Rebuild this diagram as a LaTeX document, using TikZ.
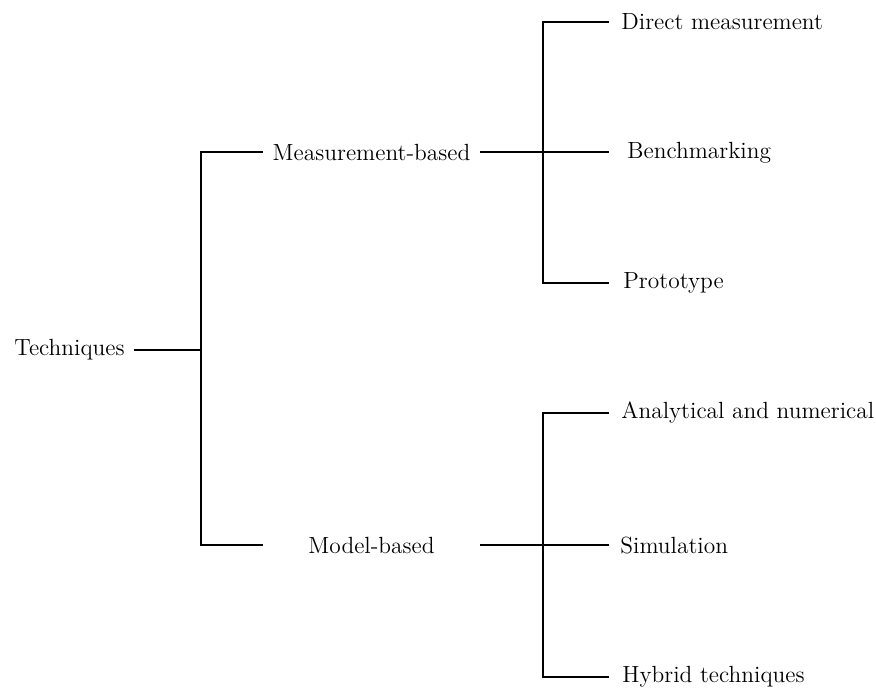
\documentclass[tikz,border=0pt]{standalone}
\usepackage{tikz}
\usetikzlibrary{positioning}

\begin{document}
\begin{tikzpicture}[x=0.5pt, y=-0.5pt, every node/.style={font=\fontsize{11.7}{14}\selectfont, inner sep=4.5pt},
  leaf/.style={anchor=west, inner xsep=#1}]
\useasboundingbox (0,0) rectangle (876,690);

% Root
\node[anchor=east] at (134,350) (tech) {Techniques};

% Middle level (fixed width, centred text)
\node[minimum width=108.5pt] at (371.5,152) (meas) {Measurement-based};
\node[minimum width=108.5pt] at (371.5,545) (model) {Model-based};

% Leaves (lines all stop at the same x)
\node[leaf=6pt] at (609,22) (direct) {Direct measurement};
\node[leaf=9pt] at (609,153) (bench) {Benchmarking};
\node[leaf=7pt] at (609,283) (proto) {Prototype};
\node[leaf=6pt] at (609,413) (anal) {Analytical and numerical};
\node[leaf=5.5pt] at (609,545) (sim) {Simulation};
\node[leaf=6.5pt] at (609,677) (hyb) {Hybrid techniques};

% Junctions
\coordinate (j0) at (201,350);
\coordinate (j1) at (543,152);
\coordinate (j2) at (543,545);

% Connections
\draw[thick] (tech) -- (j0);
\draw[thick] (meas.west) -| (j0) |- (model.west);
\draw[thick] (meas) -- (j1 -| bench.west);
\draw[thick] (direct.west) -| (j1) |- (proto.west);
\draw[thick] (model) -- (sim);
\draw[thick] (anal.west) -| (j2) |- (hyb.west);
\end{tikzpicture}
\end{document}
